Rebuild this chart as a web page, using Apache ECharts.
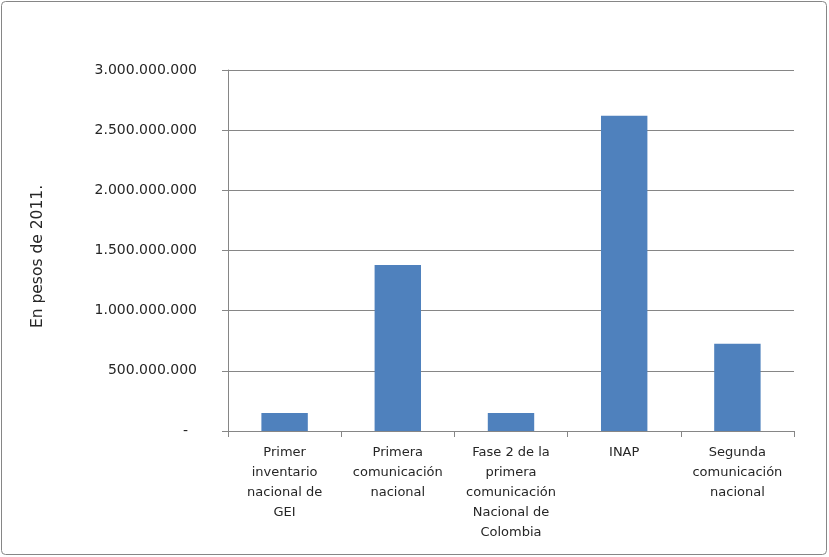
<!DOCTYPE html>
<html>
<head>
<meta charset="utf-8">
<script src="https://cdn.jsdelivr.net/npm/echarts@6/dist/echarts.min.js"></script>
<style>
html,body{margin:0;padding:0;background:#fff;}
#chart{width:829px;height:557px;}
</style>
</head>
<body>
<div id="chart"></div>
<script>
const categories = [
  "Primer\ninventario\nnacional de\nGEI",
  "Primera\ncomunicación\nnacional",
  "Fase 2 de la\nprimera\ncomunicación\nNacional de\nColombia",
  "INAP",
  "Segunda\ncomunicación\nnacional"
];
const values = [150000000, 1380000000, 150000000, 2620000000, 725000000];
const yAxisTitle = "En pesos de 2011.";

function fmt(v){
  if (v === 0) return "-  ";
  return String(Math.round(v)).replace(/\B(?=(\d{3})+(?!\d))/g, ".");
}

const chart = echarts.init(document.getElementById('chart'));
const font = "'DejaVu Sans', 'Noto Sans', sans-serif";
chart.setOption({
  animation: false,
  textStyle: {fontFamily: font},
  graphic: [{
    type: 'rect',
    shape: {x: 1.5, y: 1.5, width: 825, height: 553, r: 4},
    style: {fill: 'none', stroke: '#868686', lineWidth: 1},
    silent: true
  }],
  grid: {left: 228, right: 35, top: 70, bottom: 126},
  xAxis: {
    type: 'category',
    data: categories,
    axisLine: {lineStyle: {color: '#868686'}},
    axisTick: {show: true, length: 6, lineStyle: {color: '#868686'}, alignWithLabel: false},
    axisLabel: {color: '#262626', fontSize: 13, lineHeight: 20, margin: 12, interval: 0, fontFamily: font}
  },
  yAxis: {
    type: 'value',
    min: 0, max: 3000000000, interval: 500000000,
    name: yAxisTitle,
    nameLocation: 'middle',
    nameGap: 182,
    nameRotate: 90,
    nameTextStyle: {color: '#262626', fontSize: 15.5, fontFamily: font, padding: [0, 12, 0, 0]},
    axisLine: {show: true, lineStyle: {color: '#868686'}},
    axisTick: {show: true, length: 6, lineStyle: {color: '#868686'}},
    axisLabel: {color: '#262626', fontSize: 14, margin: 31, formatter: fmt, fontFamily: font},
    splitLine: {lineStyle: {color: '#868686'}}
  },
  series: [{
    type: 'bar',
    data: values,
    barWidth: '41%',
    itemStyle: {color: '#4F81BD'}
  }]
});
</script>
</body>
</html>
